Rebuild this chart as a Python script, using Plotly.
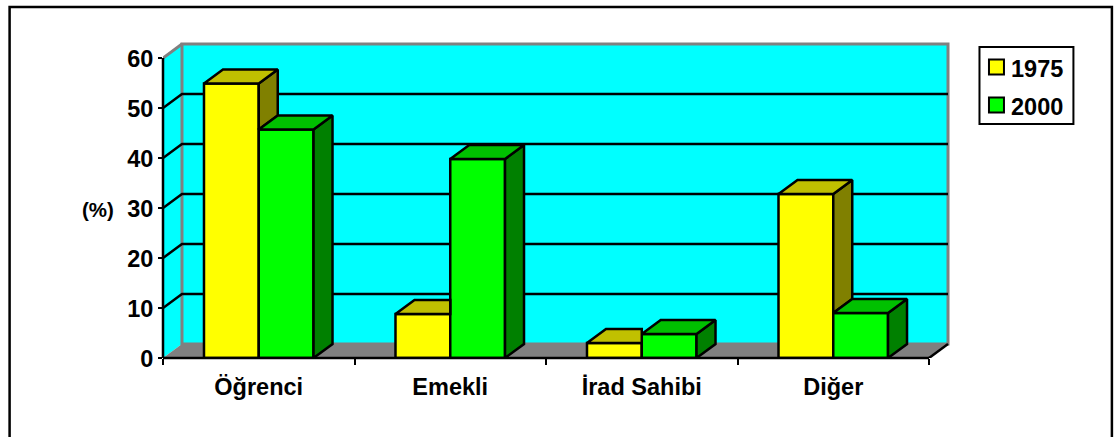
import plotly.graph_objects as go

categories = ["Öğrenci", "Emekli", "İrad Sahibi", "Diğer"]
years = ["1975", "2000"]
values_1975 = [54.9, 8.8, 3.0, 32.8]
values_2000 = [45.7, 39.8, 4.8, 9.0]
y_ticks = [0, 10, 20, 30, 40, 50, 60]

W, H = 1117, 437
# pixel frame of the plotting region
L, R, T, B = 162.5, 953, 40, 358
CAT_PX = (929 - 162.5) / 4
Y_PX = 5.0
DX = 19 / CAT_PX          # depth, in category units
DY = 14 / Y_PX            # depth, in value units
BAR = 54.8 / CAT_PX       # one bar's width in category units
X0, X1 = -0.5, -0.5 + (R - L) / CAT_PX
Y1 = (B - T) / Y_PX
XEND = 3.5

FONT = "Liberation Sans, Arial, sans-serif"
GREY = "#808080"
YELLOW, GREEN = "#FFFF00", "#00FF00"
LW = 2.5


def px(x):
    return (x - L) / (R - L)


def py(y):
    return (B - y) / (B - T)


def poly(points):
    return "M" + " L".join(f"{x} {y}" for x, y in points) + " Z"


fig = go.Figure()

# walls and floor
shapes = [
    dict(type="path", path=poly([(-0.5, 0), (-0.5 + DX, DY), (-0.5 + DX, 60 + DY), (-0.5, 60)]),
         fillcolor="#00FFFF", line=dict(width=0), layer="below", xref="x", yref="y"),
    dict(type="path", path=poly([(-0.5 + DX, DY), (XEND + DX, DY), (XEND + DX, 60 + DY), (-0.5 + DX, 60 + DY)]),
         fillcolor="#00FFFF", line=dict(color=GREY, width=3), layer="below", xref="x", yref="y"),
    dict(type="path", path=poly([(-0.5, 0), (-0.5 + DX, DY), (XEND + DX, DY), (XEND, 0)]),
         fillcolor=GREY, line=dict(width=0), layer="below", xref="x", yref="y"),
    dict(type="line", x0=-0.5, y0=60, x1=-0.5 + DX, y1=60 + DY, line=dict(color=GREY, width=3),
         layer="below", xref="x", yref="y"),
    dict(type="line", x0=XEND, y0=0, x1=XEND + DX, y1=DY, line=dict(color="black", width=LW),
         layer="below", xref="x", yref="y"),
]
# gridlines running along the side wall and the back wall
for t in y_ticks[1:-1]:
    shapes.append(dict(type="path",
                       path=f"M-0.5 {t} L{-0.5 + DX} {t + DY} L{XEND + DX} {t + DY}",
                       line=dict(color="black", width=LW), layer="below", xref="x", yref="y"))
# axis lines
shapes.append(dict(type="line", xref="paper", yref="paper", x0=0, x1=0, y0=0, y1=60 * Y_PX / (B - T),
                   line=dict(color="black", width=2.5), layer="above"))
shapes.append(dict(type="line", xref="paper", yref="paper", x0=0, x1=px(929), y0=0, y1=0,
                   line=dict(color="black", width=2.5), layer="above"))
# outer frame (open at the bottom)
shapes.append(dict(type="path", xref="paper", yref="paper",
                   path=f"M{px(9)} {py(H + 5)} L{px(9)} {py(7)} L{px(1112)} {py(7)} L{px(1112)} {py(H + 5)}",
                   line=dict(color="black", width=2.5), layer="above"))
# legend box and swatches
shapes.append(dict(type="rect", xref="paper", yref="paper", x0=px(979.5), x1=px(1073.5), y0=py(124), y1=py(47),
                   line=dict(color="black", width=2), fillcolor="white", layer="below"))
for year, color, ym in zip(years, [YELLOW, GREEN], [67, 105]):
    shapes.append(dict(type="rect", xref="paper", yref="paper", x0=px(989), x1=px(1004), y0=py(ym + 7.5), y1=py(ym - 7.5),
                       line=dict(color="black", width=2), fillcolor=color, layer="above"))
    fig.add_annotation(text=f"<b>{year}</b>", xref="paper", yref="paper", x=px(1009.5), y=py(ym + 1.5),
                       xanchor="left", yanchor="middle", showarrow=False,
                       font=dict(family=FONT, size=23.5, color="black"))

x = list(range(len(categories)))
fig.add_trace(go.Bar(x=x, y=values_1975, name=years[0], cliponaxis=False,
                     marker=dict(color=YELLOW, line=dict(color="black", width=LW))))
fig.add_trace(go.Bar(x=x, y=values_2000, name=years[1], cliponaxis=False,
                     marker=dict(color=GREEN, line=dict(color="black", width=LW))))


def face(points, color):
    fig.add_trace(go.Scatter(x=[p[0] for p in points] + [points[0][0]],
                             y=[p[1] for p in points] + [points[0][1]],
                             mode="lines", fill="toself", fillcolor=color, cliponaxis=False,
                             line=dict(color="black", width=LW, shape="linear"),
                             hoverinfo="skip", showlegend=False))


for i in x:
    a, b = values_1975[i], values_2000[i]
    left, mid, right = i - BAR, i, i + BAR
    # 1975: what the 2000 bar does not hide
    if a > b:
        face([(mid, a), (mid + DX, a + DY), (mid + DX, b + DY), (mid, b)], "#808000")
        face([(left, a), (left + DX, a + DY), (mid + DX, a + DY), (mid, a)], "#C0C000")
    else:
        face([(left, a), (left + DX, a + DY), (mid, a + DY), (mid, a)], "#C0C000")
    # 2000
    face([(right, 0), (right + DX, DY), (right + DX, b + DY), (right, b)], "#008000")
    face([(mid, b), (mid + DX, b + DY), (right + DX, b + DY), (right, b)], "#00C000")

fig.add_annotation(text="<b>(%)</b>", xref="paper", yref="paper", x=px(97.5), y=py(209),
                   xanchor="center", yanchor="middle",
                   showarrow=False, font=dict(family=FONT, size=20.5, color="black"))

fig.update_layout(
    width=W, height=H, autosize=False,
    margin=dict(l=L, r=W - R, t=T, b=H - B, pad=0, autoexpand=False),
    paper_bgcolor="white", plot_bgcolor="white",
    barmode="group", bargap=1 - 2 * BAR, bargroupgap=0,
    font=dict(family=FONT, size=23.5, color="black"),
    shapes=shapes,
    showlegend=False,
    xaxis=dict(range=[X0, X1], showgrid=False, zeroline=False, showline=False,
               tickmode="array", tickvals=x, ticktext=categories, ticks="", ticklabelstandoff=12,
               tickfont=dict(family=FONT, size=23.5, weight="bold", color="black"),
               minor=dict(tickmode="array", tickvals=[-0.5, 0.5, 1.5, 2.5, 3.5], ticks="outside",
                          ticklen=6, tickwidth=2, tickcolor="black", showgrid=False)),
    yaxis=dict(range=[0, Y1], showgrid=False, zeroline=False, showline=False,
               tickmode="array", tickvals=y_ticks, ticks="outside", ticklen=4, tickwidth=2,
               tickcolor="black", ticklabelstandoff=0, ticklabelshift=1,
               tickfont=dict(family=FONT, size=23.5, weight="bold", color="black")),
)

fig.write_html("out.html", config={"displayModeBar": False},
               post_script="document.body.style.margin='0';document.documentElement.style.overflow='hidden';")
